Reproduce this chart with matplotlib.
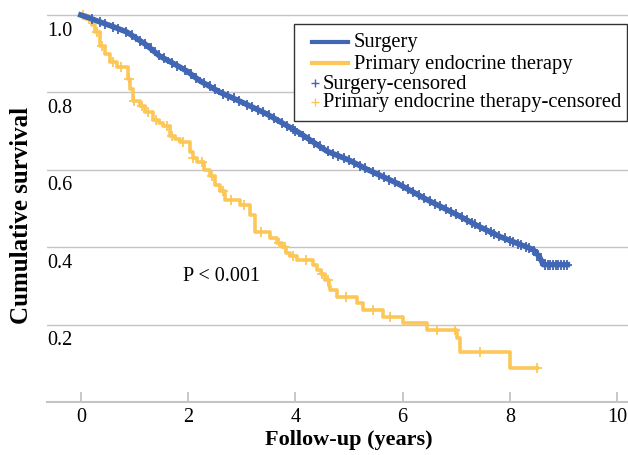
import numpy as np
import matplotlib.pyplot as plt
from matplotlib.lines import Line2D
from matplotlib.patches import Rectangle

plt.rcParams['font.family'] = ['Liberation Serif', 'DejaVu Serif']

# Surgery curve
surg_t = [0.0, 0.15, 0.3, 0.6, 0.86, 1.2, 1.47, 1.75, 1.98, 2.22, 2.6, 3.0, 3.47,
          4.08, 4.59, 5.0, 5.34, 5.9, 6.45, 7.01, 7.4, 7.82, 8.19, 8.43, 8.55, 8.62, 9.07]
surg_s = [1.0, 0.993, 0.985, 0.97, 0.956, 0.925, 0.894, 0.873, 0.855, 0.83, 0.80, 0.775, 0.744,
          0.695, 0.648, 0.625, 0.601, 0.565, 0.523, 0.484, 0.455, 0.427, 0.407, 0.394, 0.375, 0.355, 0.355]
surg_cens = [0.2, 0.35, 0.45, 0.6, 0.7, 0.85, 0.95, 1.1, 1.2, 1.3, 1.45, 1.55, 1.7, 1.8, 1.95,
             2.05, 2.15, 2.3, 2.4, 2.5, 2.65, 2.75, 2.85, 2.95, 3.1, 3.2, 3.3, 3.4, 3.5,
             3.6, 3.75, 3.85, 3.95, 4.0, 4.15, 4.25, 4.35, 4.45, 4.6, 4.7, 4.8, 4.9, 5.0, 5.1,
             5.2, 5.3, 5.45, 5.55, 5.65, 5.75, 5.85, 6.0, 6.1, 6.2, 6.3, 6.4, 6.5, 6.6,
             6.7, 6.8, 6.9, 7.0, 7.1, 7.2, 7.3, 7.35, 7.45, 7.55, 7.65, 7.7, 7.8, 7.9, 8.0,
             8.05, 8.15, 8.2, 8.3, 8.35, 8.45, 8.5, 8.58, 8.65, 8.7, 8.75, 8.8, 8.85,
             8.9, 8.95, 9.0, 9.07]

# Primary endocrine therapy curve
pet_t = [0.0, 0.1, 0.2, 0.26, 0.35, 0.45, 0.54, 0.67, 0.88, 0.92, 0.97, 1.1, 1.2, 1.34,
         1.45, 1.53, 1.66, 1.75, 1.85, 2.03, 2.1, 2.16, 2.3, 2.4, 2.5, 2.6, 2.69, 2.97,
         3.15, 3.25, 3.53, 3.65, 3.75, 3.82, 3.9, 4.03, 4.33, 4.4, 4.48, 4.55, 4.62, 4.65,
         4.78, 5.15, 5.26, 5.63, 6.0, 6.45, 7.01, 7.07, 8.0, 8.5]
pet_s = [1.0, 0.99, 0.975, 0.956, 0.92, 0.9, 0.878, 0.865, 0.834, 0.81, 0.777, 0.764, 0.75, 0.73,
         0.72, 0.712, 0.687, 0.68, 0.671, 0.645, 0.63, 0.619, 0.60, 0.585, 0.562, 0.545, 0.523, 0.51,
         0.484, 0.44, 0.425, 0.41, 0.40, 0.385, 0.376, 0.366, 0.355, 0.342, 0.33, 0.316, 0.30, 0.29,
         0.272, 0.255, 0.238, 0.22, 0.205, 0.187, 0.165, 0.13, 0.088, 0.088]
pet_cens = [0.05, 0.15, 0.3, 0.4, 0.6, 0.75, 0.9, 1.0, 1.15, 1.25, 1.4, 1.6, 1.7, 1.9,
            2.1, 2.25, 2.45, 2.65, 2.8, 3.05, 3.35, 3.7, 3.8, 3.95, 4.2, 4.5, 4.6,
            4.95, 5.45, 5.77, 6.64, 6.98, 7.44, 8.5]

xticks = [0, 2, 4, 6, 8, 10]
yticks = [0.2, 0.4, 0.6, 0.8, 1.0]
ytick_labels = ['0.2', '0.4', '0.6', '0.8', '1.0']

blue = '#4166b3'
gold = '#fcc757'
grey = '#c4c4c4'

W, H = 628, 455
fig = plt.figure(figsize=(W / 100, H / 100), dpi=100)
ax = fig.add_axes([47 / W, (H - 402) / H, (628 - 47) / W, (402 - 10) / H])

def fx(px):
    return px / W

def fy(py):
    return (H - py) / H

for y in yticks:
    ax.axhline(y, color=grey, lw=1.0, zorder=0)

ax.plot(surg_t, surg_s, color=blue, lw=4.0, solid_joinstyle='round', zorder=3)
ax.plot(surg_cens, np.interp(surg_cens, surg_t, surg_s), ls='none', marker='+',
        ms=7, mew=1.3, color=blue, zorder=3)

ax.plot(pet_t, pet_s, color=gold, lw=2.6, drawstyle='steps-post', zorder=2)
idx = np.searchsorted(pet_t, pet_cens, side='right') - 1
ax.plot(pet_cens, np.array(pet_s)[idx], ls='none', marker='+', ms=7, mew=1.3,
        color=gold, zorder=2)

ax.set_xlim(-0.63, 10.2)
ax.set_ylim(0, 1.013)
for s in ['left', 'right', 'top']:
    ax.spines[s].set_visible(False)
ax.spines['bottom'].set_color(grey)
ax.spines['bottom'].set_linewidth(1.5)
ax.set_xticks(xticks)
ax.set_xticklabels([str(v) for v in xticks], fontsize=14.5)
ax.tick_params(axis='x', direction='in', length=7.5, width=1.3, color=grey, pad=4)
ax.set_yticks([])
for y, lab in zip(yticks, ytick_labels):
    ax.text(0.0, y - 0.017, lab, transform=ax.get_yaxis_transform(),
            ha='left', va='top', fontsize=14.5)

ax.text(1.90, 0.324, 'P < 0.001', ha='left', va='center', fontsize=14.5)

fig.text(fx(349), fy(440), 'Follow-up (years)', ha='center', va='center',
         fontsize=16, fontweight='bold')
fig.text(fx(22), fy(215), 'Cumulative survival', ha='center', va='center',
         rotation=90, fontsize=18, fontweight='bold')

# legend box drawn by hand
fig.add_artist(Rectangle((fx(294), fy(121)), fx(627) - fx(294), fy(24) - fy(121),
                         transform=fig.transFigure, fill=True, facecolor='white',
                         edgecolor='#333333', lw=1.0, zorder=5))
leg_items = [('Surgery', 42, 'line', blue), ('Primary endocrine therapy', 63, 'line', gold),
             ('Surgery-censored', 83, 'mark', blue),
             ('Primary endocrine therapy-censored', 102, 'mark', gold)]
for lab, py, kind, c in leg_items:
    if kind == 'line':
        fig.add_artist(Line2D([fx(312), fx(348)], [fy(py), fy(py)], color=c, lw=3,
                              transform=fig.transFigure, zorder=6))
        tx = 354
    else:
        fig.add_artist(Line2D([fx(315)], [fy(py)], ls='none', marker='+', ms=6, mew=1.0,
                              color=c, transform=fig.transFigure, zorder=6))
        tx = 323
    fig.text(fx(tx), fy(py + 1), lab, ha='left', va='center', fontsize=14.8, zorder=7)

fig.savefig('out.png', dpi=100)
